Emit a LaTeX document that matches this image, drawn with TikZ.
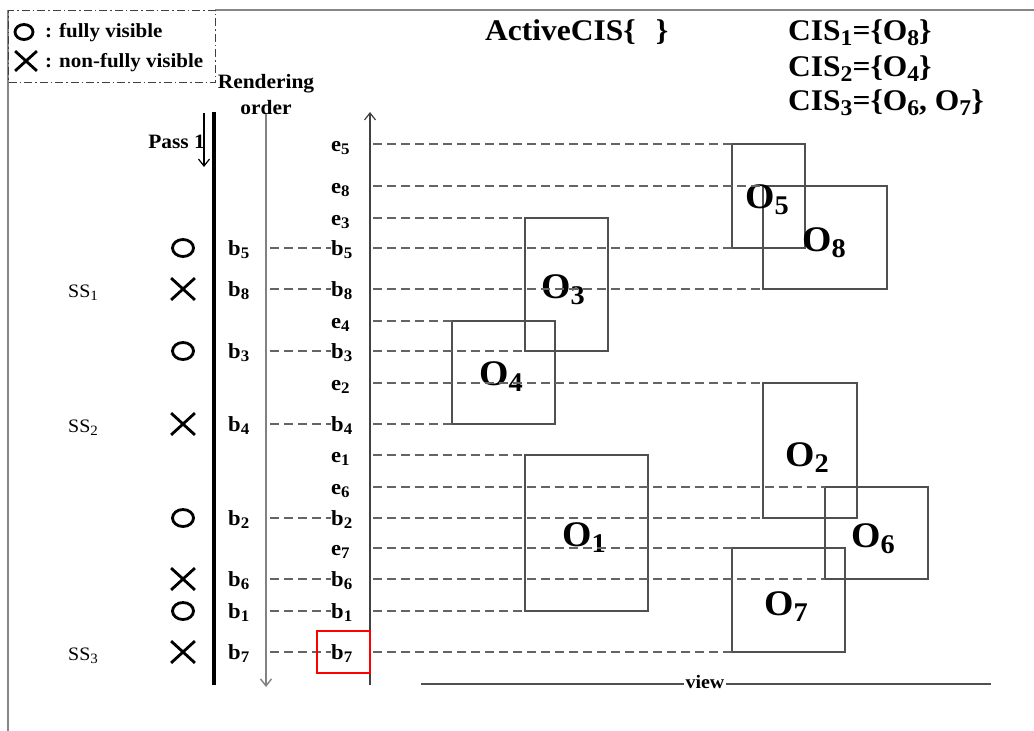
\documentclass[tikz,border=0pt]{standalone}
\usepackage{fontspec}
\setmainfont[FakeStretch=1.05]{Liberation Serif}
\usepackage{graphicx}
\usepackage{tikz}
\usetikzlibrary{arrows.meta, shapes.geometric, shapes.misc}
\definecolor{boxgray}{RGB}{80,80,80}
\definecolor{dashgray}{RGB}{100,100,100}
\definecolor{rendgray}{RGB}{130,130,130}
\definecolor{framegray}{RGB}{135,135,135}
\definecolor{axisgray}{RGB}{65,65,65}
\newcommand{\titlefont}{\fontsize{30}{34}\selectfont\bfseries}
\newcommand{\objfont}{\fontsize{36}{40}\selectfont\bfseries}
\newcommand{\rowfont}{\fontsize{21.5}{24}\selectfont\bfseries}
\newcommand{\headfont}{\fontsize{20.4}{23}\selectfont\bfseries}
\newcommand{\keyfont}{\fontsize{20}{22}\selectfont\bfseries}
\newcommand{\ssfont}{\fontsize{19}{21}\selectfont}
% index set low and a bit smaller
\newcommand{\low}[1]{\raisebox{-0.17em}{\scalebox{0.75}{#1}}}
\tikzset{
  objbox/.style={draw=boxgray, line width=1.3pt, anchor=north west,
    inner sep=0pt, outer sep=0pt},
  objlabel/.style={font=\objfont, anchor=base west, inner sep=0pt},
  rowlabel/.style={font=\rowfont, anchor=base west, inner sep=0pt},
  guide/.style={draw=dashgray, line width=1.3pt, dash pattern=on 9pt off 5pt},
  fullvis/.style={ellipse, draw, line width=2.8pt, minimum width=21pt,
    minimum height=17pt, inner sep=0pt},
  partvis/.style={cross out, draw, line width=2.8pt, minimum width=21pt,
    minimum height=19pt, inner sep=0pt},
  barb/.style={-{Straight Barb[length=7pt, width=11pt]}},
}

\begin{document}
\begin{tikzpicture}[x=1pt, y=-1pt]
  \useasboundingbox (0,0) rectangle (1034,731);

  % Frame
  \draw[framegray, line width=2pt] (215,10) -- (1034,10);
  \draw[framegray, line width=2pt] (8,10) -- (8,731);

  % Key
  \node[draw=black!75, line width=1.2pt, dash pattern=on 8pt off 3pt on 1.5pt off 3pt,
    anchor=north west, minimum width=207pt, minimum height=72pt, inner sep=0pt] (key) at (8,10) {};
  \node[fullvis, minimum width=18pt, minimum height=15pt] (keyo) at (24,32) {};
  \node[partvis, minimum width=19pt, minimum height=17pt] (keyx) at (26,61) {};
  \node[font=\keyfont, anchor=base west, inner sep=0pt] (keyotext) at (45,37) {: fully visible};
  \node[font=\keyfont, anchor=base west, inner sep=0pt] (keyxtext) at (45,67) {: non-fully visible};

  % Headings
  \node[font=\titlefont, anchor=base west, inner sep=0pt] (active) at (485,40.5) {ActiveCIS\{\hspace{20pt}\}};
  \node[font=\titlefont, anchor=base west, inner sep=0pt] (cis1) at (788,40) {CIS\low{1}=\{O\low{8}\}};
  \node[font=\titlefont, anchor=base west, inner sep=0pt] (cis2) at (788,76.5) {CIS\low{2}=\{O\low{4}\}};
  \node[font=\titlefont, anchor=base west, inner sep=0pt] (cis3) at (788,110.5) {CIS\low{3}=\{O\low{6}, O\low{7}\}};
  \node[font=\headfont, anchor=base, inner sep=0pt] (rendtitle) at (266,88) {Rendering};
  \node[font=\headfont, anchor=base, inner sep=0pt] (ordtitle) at (266,114) {order};
  \node[font=\headfont, anchor=base east, inner sep=0pt] (pass) at (205,148) {Pass 1};

  % Axes
  \coordinate (markx) at (183,0);
  \coordinate (lbx) at (228,0);
  \coordinate (rbx) at (331,0);
  \coordinate (ssx) at (68,0);
  \coordinate (pass top) at (204,113);
  \coordinate (pass end) at (204,167);
  \coordinate (seq top) at (214,112);
  \coordinate (seq end) at (214,685);
  \coordinate (rend top) at (266,114);
  \coordinate (rend end) at (266,687);
  \coordinate (ax end) at (370,685);
  \coordinate (ax top) at (370,112);
  \coordinate (axr) at (373,0);
  \draw[line width=1.2pt, barb] (pass top) -- (pass end);
  \draw[line width=3.5pt] (seq top) -- (seq end);
  \draw[rendgray, line width=1.4pt, barb] (rend top) -- (rend end);
  \draw[axisgray, line width=1.2pt, barb] (ax end) -- (ax top);

  % Objects
  \node[objbox, minimum width=73pt, minimum height=104pt] (o5) at (732,144) {};
  \node[objbox, minimum width=124pt, minimum height=103pt] (o8) at (763,186) {};
  \node[objbox, minimum width=83pt, minimum height=133pt] (o3) at (525,218) {};
  \node[objbox, minimum width=103pt, minimum height=103pt] (o4) at (452,321) {};
  \node[objbox, minimum width=94pt, minimum height=135pt] (o2) at (763,383) {};
  \node[objbox, minimum width=123pt, minimum height=156pt] (o1) at (525,455) {};
  \node[objbox, minimum width=103pt, minimum height=92pt] (o6) at (825,487) {};
  \node[objbox, minimum width=113pt, minimum height=104pt] (o7) at (732,548) {};

  \node[objlabel] (o5lab) at (745,208) {O\low{5}};
  \node[objlabel] (o8lab) at (802,251) {O\low{8}};
  \node[objlabel] (o3lab) at (541,298) {O\low{3}};
  \node[objlabel] (o4lab) at (479,385) {O\low{4}};
  \node[objlabel] (o2lab) at (785,466) {O\low{2}};
  \node[objlabel] (o1lab) at (562,546) {O\low{1}};
  \node[objlabel] (o6lab) at (851,547) {O\low{6}};
  \node[objlabel] (o7lab) at (764,615) {O\low{7}};

  % Entry events
  \foreach \i/\obj in {5/o5, 8/o8, 3/o3, 4/o4, 2/o2, 1/o1, 6/o6, 7/o7} {
    \node[rowlabel, yshift=-7pt] (e\i) at (rbx |- \obj.north west) {e\low{\i}};
    \draw[guide] (axr |- \obj.north west) -- (\obj.north west);
  }

  % Boundary events, in rendering order
  \foreach \i/\obj/\vis in {5/o5/fullvis, 8/o8/partvis, 3/o3/fullvis, 4/o4/partvis,
                            2/o2/fullvis, 6/o6/partvis, 1/o1/fullvis, 7/o7/partvis} {
    \node[\vis] (m\i) at (markx |- \obj.south west) {};
    \node[rowlabel, yshift=-7pt] (lb\i) at (lbx |- \obj.south west) {b\low{\i}};
    \node[rowlabel, yshift=-7pt] (rb\i) at (rbx |- \obj.south west) {b\low{\i}};
    \draw[guide] (rend top |- \obj.south west) ++(4,0) -- (rb\i.west |- \obj.south west);
    \draw[guide] (axr |- \obj.south west) -- (\obj.south west);
  }

  % Sub-sequences
  \node[font=\ssfont, anchor=base west, inner sep=0pt, yshift=-8pt] (ss1) at (ssx |- m8) {SS\low{1}};
  \node[font=\ssfont, anchor=base west, inner sep=0pt, yshift=-8pt] (ss2) at (ssx |- m4) {SS\low{2}};
  \node[font=\ssfont, anchor=base west, inner sep=0pt, yshift=-8pt] (ss3) at (ssx |- m7) {SS\low{3}};
  \node[draw=red, line width=1.6pt, minimum width=53pt, minimum height=42pt, inner sep=0pt] (cur) at (343.5,652) {};

  % View
  \coordinate (vl) at (421,684);
  \coordinate (vr) at (991,684);
  \node[font=\ssfont\bfseries, anchor=base, inner sep=1pt] (view) at (705,688.5) {view};
  \draw[boxgray, line width=1.3pt] (vl) -- (vl -| view.west);
  \draw[boxgray, line width=1.3pt] (view.east |- vr) -- (vr);
\end{tikzpicture}
\end{document}
